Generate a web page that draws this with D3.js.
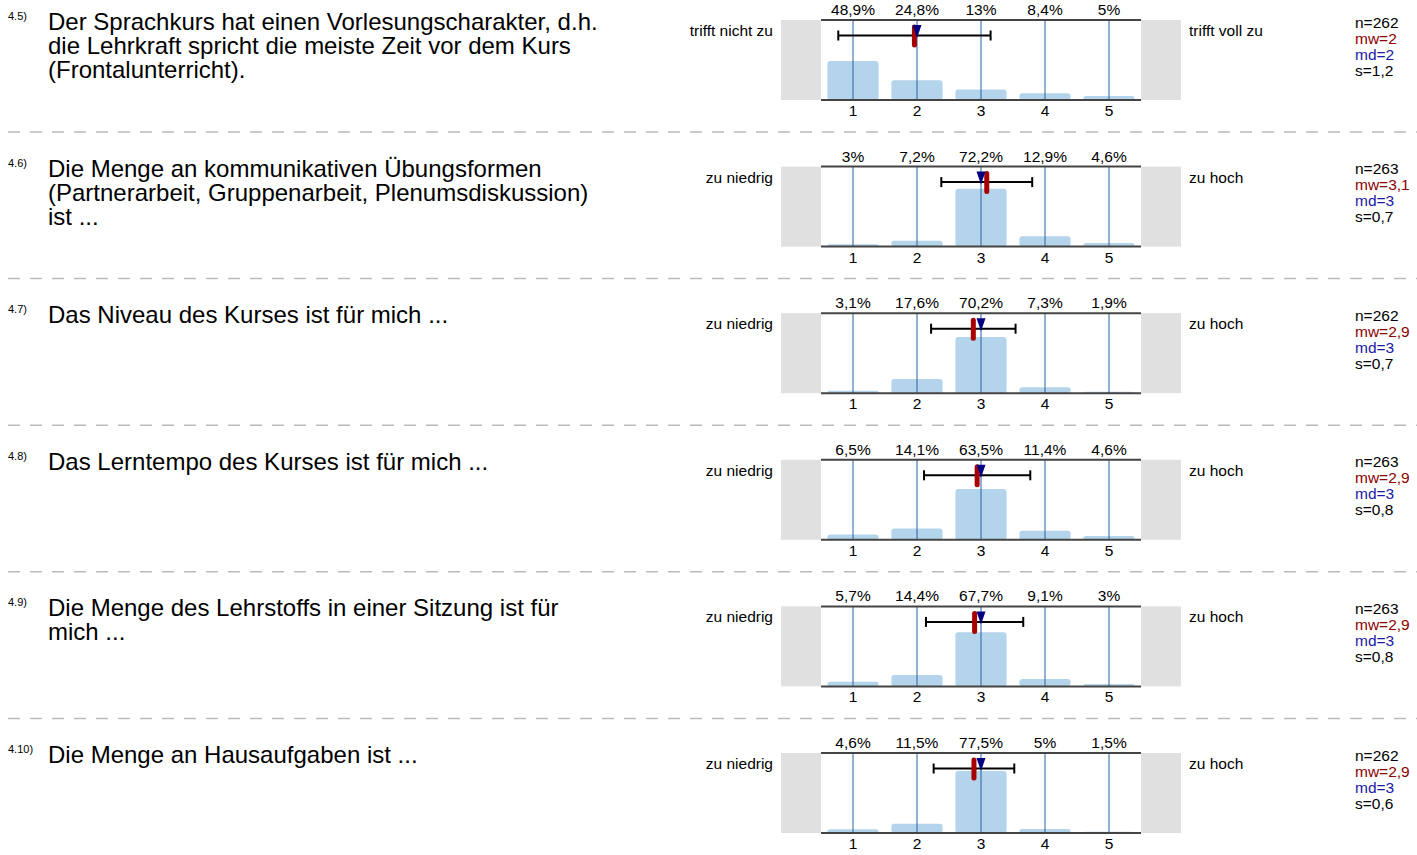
<!DOCTYPE html>
<html>
<head>
<meta charset="utf-8">
<script src="https://cdn.jsdelivr.net/npm/d3@7"></script>
<style>
  body { margin: 0; background: #fff; }
  text { font-family: "Liberation Sans", Arial, sans-serif; }
</style>
</head>
<body>
<div id="chart"></div>
<script>
// item numbers and question texts (one entry per line)
var itemIds = ["4.5)", "4.6)", "4.7)", "4.8)", "4.9)", "4.10)"];
var questions = [
    ["Der Sprachkurs hat einen Vorlesungscharakter, d.h.", "die Lehrkraft spricht die meiste Zeit vor dem Kurs", "(Frontalunterricht)."],
    ["Die Menge an kommunikativen Übungsformen", "(Partnerarbeit, Gruppenarbeit, Plenumsdiskussion)", "ist ..."],
    ["Das Niveau des Kurses ist für mich ..."],
    ["Das Lerntempo des Kurses ist für mich ..."],
    ["Die Menge des Lehrstoffs in einer Sitzung ist für", "mich ..."],
    ["Die Menge an Hausaufgaben ist ..."]
];
var leftLabels = ["trifft nicht zu", "zu niedrig", "zu niedrig", "zu niedrig", "zu niedrig", "zu niedrig"];
var rightLabels = ["trifft voll zu", "zu hoch", "zu hoch", "zu hoch", "zu hoch", "zu hoch"];
var categories = [1, 2, 3, 4, 5];

// answer shares in percent
var percents = [
    [48.9, 24.8, 13, 8.4, 5],
    [3, 7.2, 72.2, 12.9, 4.6],
    [3.1, 17.6, 70.2, 7.3, 1.9],
    [6.5, 14.1, 63.5, 11.4, 4.6],
    [5.7, 14.4, 67.7, 9.1, 3],
    [4.6, 11.5, 77.5, 5, 1.5]
];
var counts = [262, 263, 262, 263, 263, 262];
var means = [1.96, 3.09, 2.88, 2.94, 2.9, 2.89];
var medians = [2, 3, 3, 3, 3, 3];
var sds = [1.19, 0.71, 0.66, 0.83, 0.76, 0.63];

var W = 1417, H = 855;
var blockH = 146.6;
var plotTop = 20, plotH = 80;

var svg = d3.select("#chart").append("svg")
    .attr("width", W).attr("height", H);

var xBand = d3.scaleBand().domain(categories).range([821, 1141])
    .paddingInner(0.2).paddingOuter(0.1);
var xVal = d3.scaleLinear().domain([1, 5]).range([853, 1109]);
var yPct = d3.scaleLinear().domain([0, 100]).range([plotTop + plotH, plotTop]);

function fmtNum(v, digits) {
    var s = (+v).toFixed(digits);
    if (digits > 0) s = s.replace(/\.0+$/, "");
    return s.replace(".", ",");
}

questions.forEach(function(lines, i) {
    var g = svg.append("g").attr("transform", "translate(0," + (i * blockH) + ")");

    // item number
    g.append("text").attr("x", 8).attr("y", 20)
        .style("font-size", "11px").text(itemIds[i]);

    // question text
    lines.forEach(function(line, j) {
        g.append("text").attr("x", 48).attr("y", 30 + j * 24)
            .style("font-size", "24px").text(line);
    });

    // grey end boxes
    g.append("rect").attr("x", 781).attr("y", plotTop).attr("width", 40).attr("height", plotH)
        .style("fill", "#e0e0e0");
    g.append("rect").attr("x", 1141).attr("y", plotTop).attr("width", 40).attr("height", plotH)
        .style("fill", "#e0e0e0");

    // bars
    g.selectAll("rect.bar")
        .data(percents[i])
        .enter().append("rect")
        .attr("class", "bar")
        .attr("x", function(d, k) { return xBand(categories[k]); })
        .attr("width", xBand.bandwidth())
        .attr("y", function(d) { return yPct(d); })
        .attr("height", function(d) { return yPct(0) - yPct(d); })
        .attr("rx", 3)
        .style("fill", "#b4d4eb");

    // vertical blue lines
    g.selectAll("line.grid")
        .data(categories)
        .enter().append("line")
        .attr("class", "grid")
        .attr("x1", function(d) { return xVal(d); })
        .attr("x2", function(d) { return xVal(d); })
        .attr("y1", plotTop).attr("y2", plotTop + plotH)
        .style("stroke", "#2462a4").style("stroke-width", 1);

    // top and bottom lines
    [plotTop, plotTop + plotH].forEach(function(yy) {
        g.append("line").attr("x1", 821).attr("x2", 1141).attr("y1", yy).attr("y2", yy)
            .style("stroke", "#444").style("stroke-width", 2);
    });

    // percent labels on top
    var topAxis = d3.axisTop(xBand).tickSize(0)
        .tickFormat(function(d, k) { return fmtNum(percents[i][k], 1) + "%"; });
    var ta = g.append("g").attr("transform", "translate(0," + (plotTop - 1) + ")").call(topAxis);
    ta.select(".domain").remove();
    ta.selectAll("text").style("font-size", "15.5px").style("font-family", "Liberation Sans, Arial, sans-serif")
        .attr("dy", "0").attr("y", -4).style("fill", "#000");

    // scale numbers at bottom
    var botAxis = d3.axisBottom(xBand).tickSize(0);
    var ba = g.append("g").attr("transform", "translate(0," + (plotTop + plotH) + ")").call(botAxis);
    ba.select(".domain").remove();
    ba.selectAll("text").style("font-size", "15.5px").style("font-family", "Liberation Sans, Arial, sans-serif")
        .attr("dy", "0").attr("y", 16).style("fill", "#000");

    // side labels
    g.append("text").attr("x", 773).attr("y", 36).attr("text-anchor", "end")
        .style("font-size", "15.5px").text(leftLabels[i]);
    g.append("text").attr("x", 1189).attr("y", 36)
        .style("font-size", "15.5px").text(rightLabels[i]);

    // error bar (mean +/- s)
    var ey = plotTop + 15.5;
    var lo = xVal(means[i] - sds[i]), hi = xVal(means[i] + sds[i]);
    g.append("line").attr("x1", lo).attr("x2", hi).attr("y1", ey).attr("y2", ey)
        .style("stroke", "#000").style("stroke-width", 2);
    [lo, hi].forEach(function(xx) {
        g.append("line").attr("x1", xx).attr("x2", xx).attr("y1", ey - 5).attr("y2", ey + 5)
            .style("stroke", "#000").style("stroke-width", 2);
    });

    // mean marker
    g.append("line").attr("x1", xVal(means[i])).attr("x2", xVal(means[i]))
        .attr("y1", plotTop + 7).attr("y2", plotTop + 25)
        .style("stroke", "#a80000").style("stroke-width", 5).style("stroke-linecap", "round");

    // median triangle
    var mx = xVal(medians[i]);
    g.append("path")
        .attr("d", "M" + (mx - 4.5) + "," + (plotTop + 5) + "L" + (mx + 4.5) + "," + (plotTop + 5) + "L" + mx + "," + (plotTop + 18) + "Z")
        .style("fill", "#000080");

    // statistics
    var stats = [
        { t: "n=" + counts[i], c: "#000" },
        { t: "mw=" + fmtNum(means[i], 1), c: "#8b0000" },
        { t: "md=" + medians[i], c: "#1a1aa6" },
        { t: "s=" + fmtNum(sds[i], 1), c: "#000" }
    ];
    stats.forEach(function(s, k) {
        g.append("text").attr("x", 1355).attr("y", 27.5 + k * 16)
            .style("font-size", "15.5px").style("fill", s.c).text(s.t);
    });

    // separator
    if (i < questions.length - 1) {
        g.append("line").attr("x1", 8).attr("x2", W).attr("y1", 132).attr("y2", 132)
            .style("stroke", "#bbb").style("stroke-width", 1.5)
            .style("stroke-dasharray", "12,10");
    }
});
</script>
</body>
</html>
